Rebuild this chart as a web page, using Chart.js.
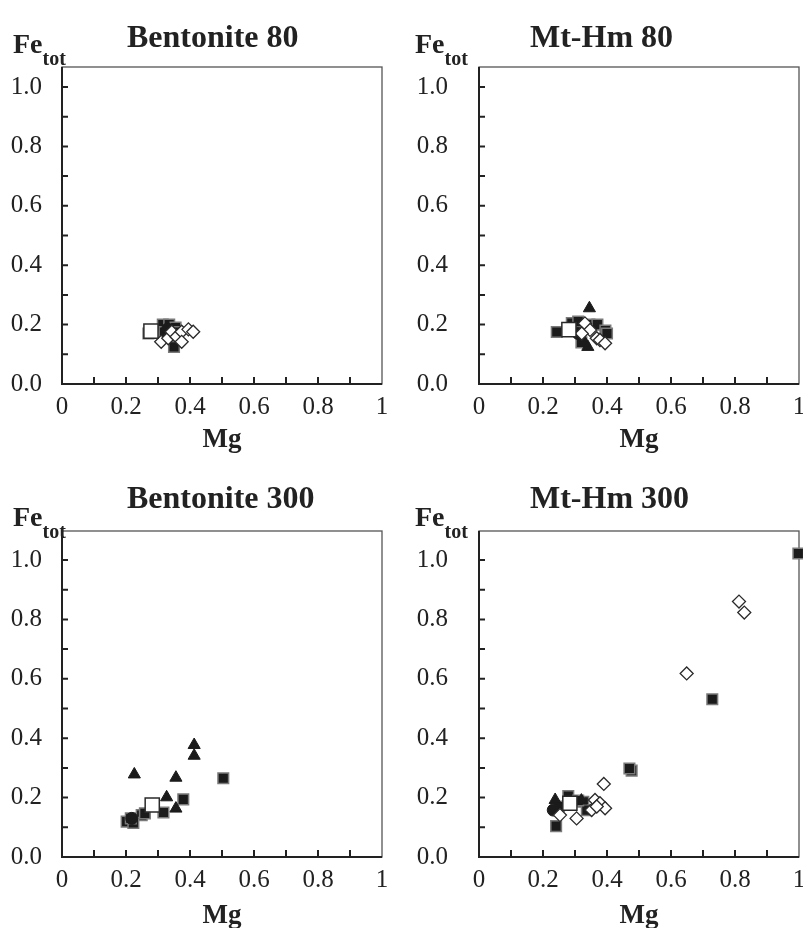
<!DOCTYPE html>
<html>
<head>
<meta charset="utf-8">
<script src="https://cdn.jsdelivr.net/npm/chart.js@4.4.1/dist/chart.umd.min.js"></script>
<style>
  body { margin: 0; background: #fff; }
  #wrap { position: relative; width: 803px; height: 928px; overflow: hidden;
          font-family: "Liberation Serif", "Times New Roman", serif; color: #222; }
  canvas { position: absolute; }
  .title { position: absolute; font-weight: bold; font-size: 32px; line-height: 32px; white-space: nowrap; }
  .fe { position: absolute; font-weight: bold; font-size: 28px; line-height: 28px; white-space: nowrap; }
  .fe sub { font-size: 20px; vertical-align: baseline; position: relative; top: 12px; }
</style>
</head>
<body>
<div id="wrap">
  <canvas id="c1" width="401" height="464" style="left:0;top:0"></canvas>
  <canvas id="c2" width="420" height="464" style="left:401px;top:0"></canvas>
  <canvas id="c3" width="401" height="464" style="left:0;top:464px"></canvas>
  <canvas id="c4" width="420" height="464" style="left:401px;top:464px"></canvas>
</div>
<script>
// tick labels
const xTickLabels = ['0', '0.2', '0.4', '0.6', '0.8', '1'];
const yTickLabels = ['0.0', '0.2', '0.4', '0.6', '0.8', '1.0'];
const panelTitles = ['Bentonite 80', 'Mt-Hm 80', 'Bentonite 300', 'Mt-Hm 300'];
const xTitle = 'Mg';

// Bentonite 80 : [Mg, Fe_tot]
const ben80Open = [[0.278, 0.178]];
const ben80Sq = [[0.27, 0.17], [0.315, 0.20], [0.335, 0.20], [0.355, 0.19], [0.32, 0.175], [0.35, 0.125], [0.34, 0.165], [0.36, 0.175]];
const ben80Tri = [];
const ben80Circ = [[0.33, 0.185]];
const ben80Dia = [[0.31, 0.142], [0.332, 0.154], [0.343, 0.176], [0.358, 0.159], [0.374, 0.176], [0.395, 0.184], [0.41, 0.176], [0.374, 0.142]];

// Mt-Hm 80
const mt80Open = [[0.281, 0.183]];
const mt80Sq = [[0.243, 0.175], [0.29, 0.205], [0.31, 0.21], [0.345, 0.20], [0.37, 0.20], [0.395, 0.18], [0.40, 0.17], [0.32, 0.14]];
const mt80Tri = [[0.345, 0.255], [0.33, 0.14], [0.34, 0.125]];
const mt80Circ = [[0.31, 0.17]];
const mt80Dia = [[0.331, 0.204], [0.347, 0.182], [0.368, 0.154], [0.378, 0.148], [0.394, 0.137], [0.321, 0.17]];

// Bentonite 300
const ben300Open = [[0.282, 0.175]];
const ben300Sq = [[0.504, 0.265], [0.379, 0.194], [0.317, 0.150], [0.249, 0.141], [0.259, 0.147], [0.202, 0.119], [0.223, 0.115], [0.215, 0.13]];
const ben300Tri = [[0.413, 0.377], [0.413, 0.341], [0.226, 0.278], [0.356, 0.267], [0.327, 0.201], [0.356, 0.163]];
const ben300Circ = [[0.218, 0.130]];
const ben300Dia = [];

// Mt-Hm 300
const mt300Open = [[0.284, 0.181]];
const mt300Sq = [[0.998, 1.022], [0.729, 0.531], [0.477, 0.291], [0.47, 0.298], [0.241, 0.104], [0.279, 0.205], [0.326, 0.186], [0.337, 0.158], [0.31, 0.19], [0.25, 0.17]];
const mt300Tri = [[0.238, 0.192], [0.32, 0.19]];
const mt300Circ = [[0.232, 0.158]];
const mt300Dia = [[0.8125, 0.86], [0.829, 0.823], [0.649, 0.618], [0.39, 0.246], [0.253, 0.141], [0.305, 0.13], [0.3625, 0.192], [0.378, 0.181], [0.394, 0.164], [0.352, 0.158], [0.368, 0.170]];

// layout of each panel (canvas-relative)
const panels = [
  { id: 'c1', yW: 62, padR: 19, xH: 80, ymax: 317 / 297, yPad: 20, mgPad: 8,
    sets: [ben80Open, ben80Dia, ben80Circ, ben80Tri, ben80Sq], title: [127, 20], fe: [13, 30] },
  { id: 'c2', yW: 78, padR: 22, xH: 80, ymax: 317 / 297, yPad: 31, mgPad: 8,
    sets: [mt80Open, mt80Dia, mt80Circ, mt80Tri, mt80Sq], title: [530, 20], fe: [415, 30] },
  { id: 'c3', yW: 62, padR: 19, xH: 71, ymax: 326 / 297, yPad: 20, mgPad: -4,
    sets: [ben300Open, ben300Dia, ben300Circ, ben300Tri, ben300Sq], title: [127, 481], fe: [13, 503] },
  { id: 'c4', yW: 78, padR: 22, xH: 71, ymax: 326 / 297, yPad: 31, mgPad: -4,
    sets: [mt300Open, mt300Dia, mt300Circ, mt300Tri, mt300Sq], title: [530, 481], fe: [415, 503] }
];

// marker styles, same order as panel.sets
const markerStyles = [
  { pointStyle: 'rect', radius: 10, bg: '#ffffff', border: '#2a2a2a', bw: 1.5 },
  { pointStyle: 'rectRot', radius: 6.5, bg: '#ffffff', border: '#2a2a2a', bw: 1.3 },
  { pointStyle: 'circle', radius: 6, bg: '#1b1b1b', border: '#1b1b1b', bw: 1 },
  { pointStyle: 'triangle', radius: 7, bg: '#1b1b1b', border: '#1b1b1b', bw: 1 },
  { pointStyle: 'rect', radius: 7.5, bg: '#1b1b1b', border: '#7a7a7a', bw: 1.5 }
];

Chart.defaults.font.family = '"Liberation Serif", "Times New Roman", serif';
Chart.defaults.color = '#222';

function isTenth(v) {
  const k = v * 10;
  return Math.abs(k - Math.round(k)) < 1e-6;
}

// box round the plot + inward tick marks
const framePlugin = {
  id: 'frame',
  beforeDatasetsDraw(chart) {
    const { ctx, chartArea: a, scales } = chart;
    ctx.save();
    ctx.strokeStyle = '#555';
    ctx.lineWidth = 1.3;
    ctx.strokeRect(a.left, a.top, a.right - a.left, a.bottom - a.top);
    ctx.strokeStyle = '#222';
    ctx.lineWidth = 2;
    ctx.beginPath();
    ctx.moveTo(a.left, a.top);
    ctx.lineTo(a.left, a.bottom);
    ctx.lineTo(a.right, a.bottom);
    scales.x.ticks.forEach(t => {
      if (!isTenth(t.value) || t.value <= 0 || t.value >= 1) return;
      const px = scales.x.getPixelForValue(t.value);
      ctx.moveTo(px, a.bottom);
      ctx.lineTo(px, a.bottom - 7);
    });
    scales.y.ticks.forEach(t => {
      if (!isTenth(t.value) || t.value <= 0) return;
      const py = scales.y.getPixelForValue(t.value);
      ctx.moveTo(a.left, py);
      ctx.lineTo(a.left + 6, py);
    });
    ctx.stroke();
    ctx.restore();
  }
};

function toPoints(arr) {
  return arr.map(p => ({ x: p[0], y: p[1] }));
}

const wrap = document.getElementById('wrap');

panels.forEach((p, i) => {
  // HTML titles
  const t = document.createElement('div');
  t.className = 'title';
  t.style.left = p.title[0] + 'px';
  t.style.top = p.title[1] + 'px';
  t.textContent = panelTitles[i];
  wrap.appendChild(t);

  const fe = document.createElement('div');
  fe.className = 'fe';
  fe.style.left = p.fe[0] + 'px';
  fe.style.top = p.fe[1] + 'px';
  fe.innerHTML = 'Fe<sub>tot</sub>';
  wrap.appendChild(fe);

  const datasets = p.sets.map((arr, j) => {
    const m = markerStyles[j];
    return {
      data: toPoints(arr),
      pointStyle: m.pointStyle,
      pointRadius: m.radius,
      pointBackgroundColor: m.bg,
      pointBorderColor: m.border,
      pointBorderWidth: m.bw,
      showLine: false,
      clip: false
    };
  });

  new Chart(document.getElementById(p.id), {
    type: 'scatter',
    data: { datasets: datasets },
    options: {
      responsive: false,
      animation: false,
      devicePixelRatio: 1,
      events: [],
      layout: { padding: { left: 0, right: p.padR, top: 67, bottom: 0 } },
      plugins: { legend: { display: false }, tooltip: { enabled: false } },
      scales: {
        x: {
          type: 'linear', min: 0, max: 1, bounds: 'data',
          grid: { display: false, drawTicks: false },
          border: { display: false },
          ticks: {
            stepSize: 0.1, includeBounds: false, autoSkip: false, maxRotation: 0,
            padding: 8, font: { size: 25 },
            callback: v => {
              const k = Math.round(v * 10);
              return (isTenth(v) && k % 2 === 0) ? xTickLabels[k / 2] : '';
            }
          },
          title: { display: true, text: xTitle, font: { size: 27, weight: 'bold' },
                   padding: { top: 0, bottom: p.mgPad } },
          afterFit: s => { s.height = p.xH; }
        },
        y: {
          type: 'linear', min: 0, max: p.ymax, bounds: 'data',
          grid: { display: false, drawTicks: false },
          border: { display: false },
          ticks: {
            stepSize: 0.1, includeBounds: false, autoSkip: false,
            padding: p.yPad, font: { size: 25 },
            callback: v => {
              const k = Math.round(v * 10);
              return (isTenth(v) && k % 2 === 0) ? yTickLabels[k / 2] : '';
            }
          },
          afterFit: s => { s.width = p.yW; }
        }
      }
    },
    plugins: [framePlugin]
  });
});
</script>
</body>
</html>
